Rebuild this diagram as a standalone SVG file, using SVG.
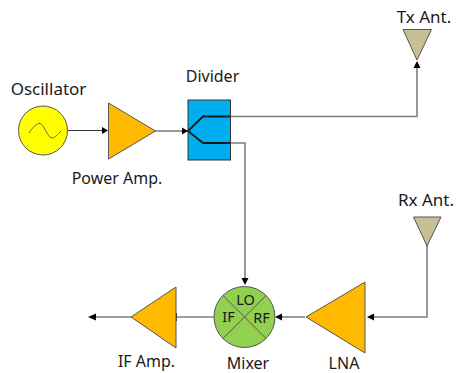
<svg xmlns="http://www.w3.org/2000/svg" width="460" height="373" viewBox="0 0 460 373">
<style>
text{font-family:"Noto Sans","Open Sans",sans-serif;font-size:16px;fill:#1a1a1a;text-anchor:middle}
.big{font-size:17px}
.in{font-size:14.5px}
.amp{fill:#ffb900;stroke:#555;stroke-width:1}
.ant{fill:#c8bf96;stroke:#555;stroke-width:1}
.w{fill:none;stroke:#7f7f7f;stroke-width:1.6}
.k{fill:none;stroke:#333;stroke-width:1}
.s{fill:none;stroke:#1a1a1a;stroke-width:1.8}
.h{fill:#000}
</style>
<rect width="460" height="373" fill="#fff"/>
<g id="connectors">
<path class="k" d="M68 130.500H102"/><path class="h" d="M102 127V134L108 130.500Z"/>
<path class="k" d="M155 131H182"/><path class="h" d="M182 127.500V134.500L188 131Z"/>
<path class="w" d="M230 116.500H417V68"/><path class="h" d="M413.500 68H420.500L417 61Z"/>
<path class="w" d="M230 143H245V278"/><path class="h" d="M241.500 278H248.500L245 285Z"/>
<path class="w" d="M427 245V317H373"/><path class="h" d="M374 313.500V320.500L367 317Z"/>
<path class="w" d="M305 317H282"/><path class="h" d="M282 313.500V320.500L275 317Z"/>
<path class="w" d="M214 317H177"/><path class="k" d="M176.500 313V321"/>
<path class="w" d="M131 317H95"/><path class="h" d="M96 313.500V320.500L88 317Z"/>
</g>
<g id="oscillator">
<circle cx="43" cy="130.500" r="24.500" fill="#ffff00" stroke="#555"/>
<path d="M29 133C33 127 37 123 40 123.500C44 124 47 137 52 138C55 138 58 134 61 131" fill="none" stroke="#666" stroke-width="1"/>
<text x="48.500" y="95" class="big">Oscillator</text>
</g>
<g id="power-amp">
<path class="amp" d="M108.500 103L155.500 131L108.500 159Z"/>
<text x="117" y="184">Power Amp.</text>
</g>
<g id="divider">
<rect x="188" y="100" width="42.500" height="60" fill="#00aeef" stroke="#333"/>
<path class="s" d="M230 116.500H203L188 131L203 143H230"/>
<text x="212.500" y="82">Divider</text>
</g>
<g id="tx-ant">
<path class="ant" d="M403 29.500H431.500L417 60Z"/>
<text x="424" y="23" class="big">Tx Ant.</text>
</g>
<g id="rx-ant">
<path class="ant" d="M413.500 217H441L427 246Z"/>
<text x="426" y="206" class="big">Rx Ant.</text>
</g>
<g id="mixer">
<circle cx="244.500" cy="317" r="30.500" fill="#92d050" stroke="#555"/>
<path d="M223 295.500L266 338.500M266 295.500L223 338.500" stroke="#555" fill="none"/>
<text x="245.500" y="305" class="in">LO</text>
<text x="228.500" y="322" class="in">IF</text>
<text x="261.500" y="323" class="in">RF</text>
<text x="248" y="369">Mixer</text>
</g>
<g id="lna">
<path class="amp" d="M306 317L365 282V353Z"/>
<text x="344" y="369">LNA</text>
</g>
<g id="if-amp">
<path class="amp" d="M131 317L176 287V348Z"/>
<text x="146.500" y="367">IF Amp.</text>
</g>
</svg>
